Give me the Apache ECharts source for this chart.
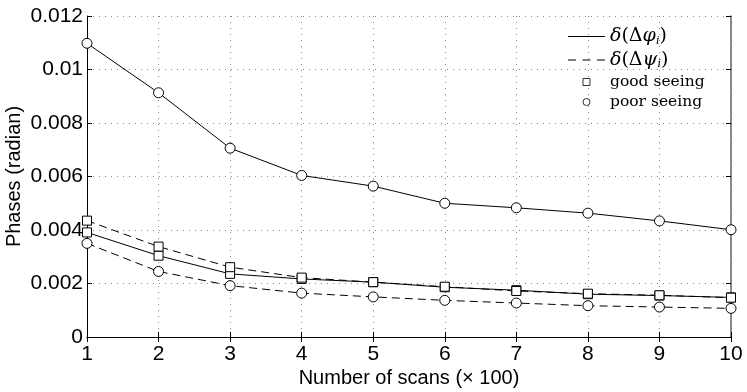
<!DOCTYPE html>
<html><head><meta charset="utf-8">
<script src="https://cdn.jsdelivr.net/npm/echarts@6/dist/echarts.min.js"></script>
<style>html,body{margin:0;padding:0;background:#fff}#c{width:747px;height:392px}</style>
</head><body><div id="c"></div>
<script>
const scans = [1,2,3,4,5,6,7,8,9,10];
const poorPhi = [0.01098,0.00913,0.00706,0.00604,0.00564,0.00500,0.00483,0.00463,0.00434,0.00401];
const poorPsi = [0.00350,0.00245,0.00192,0.00164,0.00150,0.00137,0.00127,0.00117,0.00112,0.00107];
const goodPhi = [0.00391,0.00304,0.00236,0.00217,0.00205,0.00186,0.00175,0.00160,0.00155,0.00148];
const goodPsi = [0.00435,0.00338,0.00261,0.00222,0.00205,0.00188,0.00172,0.00162,0.00156,0.00147];
const yTicks = [0,0.002,0.004,0.006,0.008,0.01,0.012];

const pair = (ys) => scans.map((x,i)=>[x,ys[i]]);
const sans = "'Liberation Sans', Arial, sans-serif";
const serif = "'DejaVu Serif', serif";
const dash = [8,5];

function dataSeries(name, ys, dashed, symbol, size){
  return {type:'line', name:name, data:pair(ys), symbol:symbol, symbolSize:size,
    lineStyle:{color:'#000', width:1, type: dashed?dash:'solid'},
    itemStyle:{color:'#fff', borderColor:'#000', borderWidth:1},
    z: 3, animation:false};
}

const chart = echarts.init(document.getElementById('c'), null, {renderer:'canvas'});
const axisCommon = {type:'value', min:1, max:10, interval:1};
const solidIcon = 'path://M0,0h37v1h-37z';
const dashIcon = 'path://M0,0h8v1h-8zM14.5,0h8v1h-8zM29,0h8v1h-8z';
const squareIcon = 'path://M0,0h6v6h-6z';
const circleIcon = 'path://M3.5,0A3.5,3.5,0,1,1,3.49,0z';
const legendStyle = {color:'#fff', borderColor:'#000', borderWidth:1};
chart.setOption({
  animation:false,
  grid:{left:87, right:16, top:16, bottom:55, containLabel:false, outerBoundsMode:'none'},
  xAxis:[
    Object.assign({}, axisCommon, {position:'bottom',
      name:'Number of scans (\u00d7 100)', nameLocation:'middle', nameGap:31, nameMoveOverlap:false,
      nameTextStyle:{fontFamily:sans, fontSize:20, color:'#000'},
      axisLine:{lineStyle:{color:'#000', width:1}},
      axisTick:{inside:true, length:5, lineStyle:{color:'#000'}},
      axisLabel:{fontFamily:sans, fontSize:21, color:'#000', margin:7},
      splitLine:{show:true, lineStyle:{color:'#888', type:[1,5], width:1}}}),
    Object.assign({}, axisCommon, {position:'top',
      axisLine:{lineStyle:{color:'#000', width:1}},
      axisTick:{inside:true, length:5, lineStyle:{color:'#000'}},
      axisLabel:{show:false}, splitLine:{show:false}})
  ],
  yAxis:[
    {type:'value', min:0, max:0.012, interval:0.002, position:'left',
      name:'Phases (radian)', nameLocation:'middle', nameGap:63, nameMoveOverlap:false,
      nameTextStyle:{fontFamily:sans, fontSize:20, color:'#000'},
      axisLine:{show:true, lineStyle:{color:'#000', width:1}},
      axisTick:{show:true, inside:true, length:5, lineStyle:{color:'#000'}},
      axisLabel:{fontFamily:sans, fontSize:21, color:'#000', margin:4,
        formatter:(v)=>{ const t = yTicks.find(k=>Math.abs(k-v)<1e-9); return (t===undefined? v : t).toString(); }},
      splitLine:{show:true, lineStyle:{color:'#888', type:[1,5], width:1}}},
    {type:'value', min:0, max:0.012, interval:0.002, position:'right',
      axisLine:{show:true, lineStyle:{color:'#666', width:1.5}},
      axisTick:{show:true, inside:true, length:5, lineStyle:{color:'#000'}},
      axisLabel:{show:false}, splitLine:{show:false}}
  ],
  legend:{
    left:568, top:27, orient:'vertical', itemGap:4, padding:0,
    itemWidth:37, itemHeight:7,
    data:[
      {name:'phi', icon:solidIcon, itemStyle:{color:'#000', borderWidth:0}},
      {name:'psi', icon:dashIcon, itemStyle:{color:'#000', borderWidth:0}},
      {name:'good seeing', icon:squareIcon, itemStyle:legendStyle},
      {name:'poor seeing', icon:circleIcon, itemStyle:legendStyle}
    ],
    formatter:function(n){
      if(n==='phi') return '{gi|\u03b4}{g|(\u0394}{gi|\u03c6}{sub|i}{g|)}';
      if(n==='psi') return '{gi|\u03b4}{g|(\u0394}{gi|\u03c8}{sub|i}{g|)}';
      return '{t|'+n+'}';
    },
    textStyle:{fontFamily:serif, fontSize:15, color:'#000', padding:0,
      rich:{
        g:{fontFamily:serif, fontSize:19, color:'#000', lineHeight:20},
        gi:{fontFamily:serif, fontSize:19, fontStyle:'italic', color:'#000', lineHeight:20},
        sub:{fontFamily:serif, fontSize:11, fontStyle:'italic', color:'#000', verticalAlign:'bottom', lineHeight:20, padding:[8,0,0,0]},
        t:{fontFamily:serif, fontSize:15.5, color:'#000', lineHeight:20}
      }}
  },
  series:[
    dataSeries('poorPhi', poorPhi, false, 'circle', 10),
    dataSeries('poorPsi', poorPsi, true, 'circle', 10),
    dataSeries('goodPhi', goodPhi, false, 'rect', 9),
    dataSeries('goodPsi', goodPsi, true, 'rect', 9),
    {type:'line', name:'phi', data:[], symbol:'none', lineStyle:{color:'#000', width:1}},
    {type:'line', name:'psi', data:[], symbol:'none', lineStyle:{color:'#000', width:1, type:dash}},
    {type:'scatter', name:'good seeing', data:[], symbol:'rect', itemStyle:legendStyle},
    {type:'scatter', name:'poor seeing', data:[], symbol:'circle', itemStyle:legendStyle}
  ]
});
</script></body></html>
